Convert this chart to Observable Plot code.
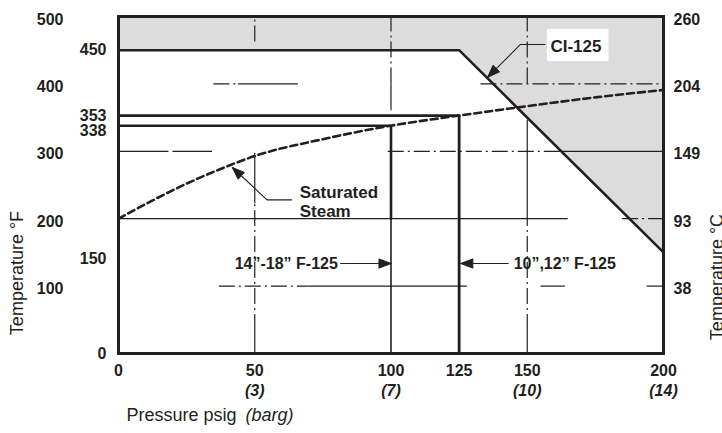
<!DOCTYPE html>
<html><head><meta charset="utf-8">
<script src="https://cdn.jsdelivr.net/npm/d3@7"></script>
<script src="https://cdn.jsdelivr.net/npm/@observablehq/plot@0.6"></script>
<style>html,body{margin:0;padding:0;background:#fff;overflow:hidden}#chart svg{display:block}</style>
</head><body><div id="chart"></div>
<script>
// ---- axes / ticks ----
const pressureTicks = [0, 50, 100, 125, 150, 200];
const bargTicks = [50, 100, 150, 200];
const bargLabels = ["(3)", "(7)", "(10)", "(14)"];
const fOuterTicks = [500, 400, 300, 200, 100];
const fInnerTicksA = [450, 353, 0];
const fInnerTicksB = [338];
const fInnerTicksC = [150];
const cTicksF = [500, 400, 300, 200, 100];
const cLabels = ["260", "204", "149", "93", "38"];

// ---- rating lines (psig, °F) ----
const ci125 = [[0, 450], [125, 450], [200, 150]];
const f125Large = [[0, 353], [125, 353], [125, 0]];
const f125SmallUpper = [[0, 338], [100, 338], [100, 200]];
const f125SmallLower = [[100, 200], [100, 0]];

// ---- saturated steam curve ----
const steamPressure = [0, 12, 25, 37, 50, 75, 100, 125, 150, 175, 200];
const steamTemp = [200, 226, 252, 273, 293, 318, 338, 353, 367, 380, 391];

// ---- reference grid pieces (psig, °F) ----
const gridSolidH = [
  {y: 400, x1: 44, x2: 66}, {y: 300, x1: 0, x2: 18.5}, {y: 300, x1: 20, x2: 34.5},
  {y: 300, x1: 163, x2: 200}, {y: 200, x1: 0, x2: 165}, {y: 100, x1: 70, x2: 128},
  {y: 100, x1: 155, x2: 164}
];
const gridDashH = [
  {y: 400, x1: 35, x2: 44}, {y: 400, x1: 133, x2: 200}, {y: 300, x1: 99, x2: 163},
  {y: 200, x1: 185, x2: 200}, {y: 100, x1: 37, x2: 70}, {y: 100, x1: 194, x2: 200}
];
const gridSolidV = [
  {x: 50, y1: 222, y2: 297}, {x: 50, y1: 0, y2: 34}, {x: 150, y1: 190, y2: 346},
  {x: 150, y1: 0, y2: 34}, {x: 100, y1: 360, y2: 400}
];
const gridDashV = [
  {x: 50, y1: 462, y2: 500}, {x: 50, y1: 34, y2: 222}, {x: 100, y1: 400, y2: 500},
  {x: 150, y1: 400, y2: 500}, {x: 150, y1: 34, y2: 190}
];

// ---- annotations ----
const labelCI = {text: "CI-125", x: 158.5, y: 456};
const boxCI = {x1: 157.4, x2: 180, y1: 433, y2: 481};
const labelSteam = {text: "Saturated\nSteam", x: 66.5, y: 225};
const labelSmall = {text: "14”-18” F-125", x: 80.5, y: 133.5};
const labelLarge = {text: "10”,12” F-125", x: 145, y: 133.5};
const leaderCI = [[156.5, 458.5], [147.5, 458.5], [135.5, 410]];
const leaderSteam = [[63.5, 228], [54.5, 228], [41.8, 276]];
const leaderSmall = [[81.5, 133.5], [100, 133.5]];
const leaderLarge = [[143, 133.5], [125.6, 133.5]];

const ink = "#231f20";
const font = "'Liberation Sans', Arial, Helvetica, sans-serif";
const head = (color) => {
  const m = d3.create("svg:marker")
    .attr("viewBox", "-12 -4.5 12 9").attr("markerWidth", 12).attr("markerHeight", 9)
    .attr("markerUnits", "userSpaceOnUse").attr("orient", "auto").attr("overflow", "visible");
  m.append("path").attr("d", "M-12,-4.5L0,0L-12,4.5Z").attr("fill", color);
  return m.node();
};
const dashDot = "16,4,2,4";
const steam = steamPressure.map((p, i) => [p, steamTemp[i]]);
const tickText = {tickSize: 0, fontSize: 16, fontWeight: "bold", label: null};

const chart = Plot.plot({
  width: 722, height: 433,
  marginLeft: 118, marginRight: 59, marginTop: 16, marginBottom: 80,
  x: {domain: [0, 200]},
  y: {domain: [0, 500]},
  style: {fontFamily: font, color: ink, background: "#fff", overflow: "visible"},
  marks: [
    Plot.areaY(ci125, {x: d => d[0], y1: d => d[1], y2: 500, fill: "#dcdcdd"}),
    Plot.ruleY(gridSolidH, {y: "y", x1: "x1", x2: "x2", stroke: ink, strokeWidth: 1.2}),
    Plot.ruleY(gridDashH, {y: "y", x1: "x1", x2: "x2", stroke: ink, strokeWidth: 1.2, strokeDasharray: dashDot}),
    Plot.ruleX(gridSolidV, {x: "x", y1: "y1", y2: "y2", stroke: ink, strokeWidth: 1.2}),
    Plot.ruleX(gridDashV, {x: "x", y1: "y1", y2: "y2", stroke: ink, strokeWidth: 1.2, strokeDasharray: dashDot}),
    Plot.line(ci125, {stroke: ink, strokeWidth: 2.6, strokeLinejoin: "miter"}),
    Plot.line(f125Large, {stroke: ink, strokeWidth: 2.8, strokeLinejoin: "miter"}),
    Plot.line(f125SmallUpper, {stroke: ink, strokeWidth: 2.6, strokeLinejoin: "miter"}),
    Plot.line(f125SmallLower, {stroke: ink, strokeWidth: 1.6}),
    Plot.line(steam, {curve: "monotone-x", stroke: ink, strokeWidth: 2.6, strokeDasharray: "7,4"}),
    Plot.rect([boxCI], {x1: "x1", x2: "x2", y1: "y1", y2: "y2", fill: "#fff"}),
    Plot.line(leaderCI, {stroke: ink, strokeWidth: 1.1, markerEnd: head}),
    Plot.line(leaderSteam, {stroke: ink, strokeWidth: 1.1, markerEnd: head}),
    Plot.line(leaderSmall, {stroke: ink, strokeWidth: 1.1, markerEnd: head}),
    Plot.line(leaderLarge, {stroke: ink, strokeWidth: 1.1, markerEnd: head}),
    Plot.text([labelCI], {x: "x", y: "y", text: "text", textAnchor: "start", fontWeight: "bold", fontSize: 17, fill: ink}),
    Plot.text([labelSteam], {x: "x", y: "y", text: "text", textAnchor: "start", fontWeight: "bold", fontSize: 17, lineHeight: 1.1, fill: ink}),
    Plot.text([labelSmall], {x: "x", y: "y", text: "text", textAnchor: "end", fontWeight: "bold", fontSize: 16, fill: ink}),
    Plot.text([labelLarge], {x: "x", y: "y", text: "text", textAnchor: "start", fontWeight: "bold", fontSize: 16, fill: ink}),
    Plot.axisY({...tickText, ticks: fOuterTicks, tickPadding: 55, dy: 3}),
    Plot.axisY({...tickText, ticks: fInnerTicksA, tickPadding: 12, dy: 0}),
    Plot.axisY({...tickText, ticks: fInnerTicksB, tickPadding: 12, dy: 5}),
    Plot.axisY({...tickText, ticks: fInnerTicksC, tickPadding: 12, dy: 6}),
    Plot.axisY({...tickText, anchor: "right", ticks: cTicksF, tickFormat: d => cLabels[cTicksF.indexOf(d)], tickPadding: 10, dy: 3}),
    Plot.axisX({...tickText, ticks: pressureTicks, tickPadding: 11}),
    Plot.axisX({...tickText, ticks: bargTicks, tickFormat: d => bargLabels[bargTicks.indexOf(d)], tickPadding: 31, fontStyle: "italic"}),
    Plot.text(["Temperature °F"], {frameAnchor: "left", textAnchor: "middle", dx: -101, dy: 88, rotate: -90, fontSize: 18, fill: ink}),
    Plot.text(["Temperature °C"], {frameAnchor: "right", textAnchor: "middle", dx: 54, dy: 92, rotate: -90, fontSize: 18, fill: ink}),
    Plot.text(["Pressure psig"], {frameAnchor: "bottom-left", dx: 8, dy: 67, textAnchor: "start", fontSize: 18, fill: ink}),
    Plot.text(["(barg)"], {frameAnchor: "bottom-left", dx: 127, dy: 67, textAnchor: "start", fontSize: 18, fontStyle: "italic", fill: ink}),
    Plot.frame({stroke: ink, strokeWidth: 3})
  ]
});
document.getElementById("chart").appendChild(chart);
</script>
</body></html>
